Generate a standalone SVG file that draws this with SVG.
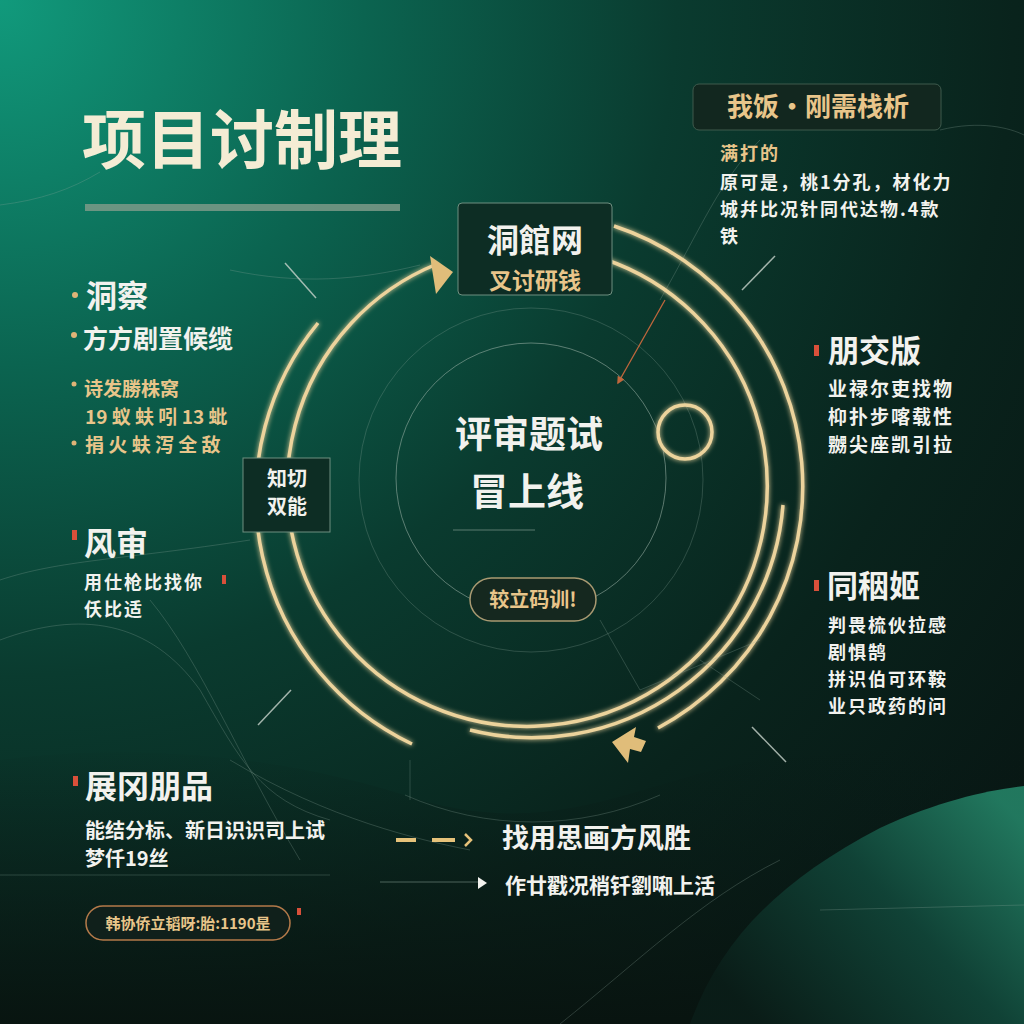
<svg xmlns="http://www.w3.org/2000/svg" width="1024" height="1024" viewBox="0 0 1024 1024">
<defs>
<radialGradient id="bg" cx="0" cy="0" r="1300" gradientUnits="userSpaceOnUse">
<stop offset="0" stop-color="#119a7c"/>
<stop offset="0.28" stop-color="#0b6450"/>
<stop offset="0.52" stop-color="#0a3b2f"/>
<stop offset="0.78" stop-color="#09231c"/>
<stop offset="1" stop-color="#081714"/>
</radialGradient>
<linearGradient id="dark" x1="0" y1="0" x2="0" y2="1">
<stop offset="0" stop-color="#0a1a16" stop-opacity="0"/>
<stop offset="1" stop-color="#08130f" stop-opacity="0.9"/>
</linearGradient>
<linearGradient id="wave" x1="1000" y1="800" x2="760" y2="1024" gradientUnits="userSpaceOnUse">
<stop offset="0" stop-color="#248266"/>
<stop offset="0.45" stop-color="#11473a"/>
<stop offset="1" stop-color="#0a1d18"/>
</linearGradient>
<filter id="glow" x="-20%" y="-20%" width="140%" height="140%">
<feGaussianBlur stdDeviation="2.5" result="b"/>
<feMerge><feMergeNode in="b"/><feMergeNode in="SourceGraphic"/></feMerge>
</filter>
<marker id="orange" viewBox="0 0 10 10" refX="8" refY="5" markerWidth="6" markerHeight="6" orient="auto">
<path d="M0,0 L10,5 L0,10 z" fill="#c0673c"/>
</marker>
</defs>
<style>
.t{font-family:"Noto Sans CJK SC","Noto Sans",sans-serif;font-weight:700}
.w{fill:#f2f2ee}
.g{fill:#e8c58a}
.ls{letter-spacing:2px}
.ring{fill:none;stroke:#ecd39c;stroke-width:3.5;filter:url(#glow)}
.thin{fill:none;stroke:#9fb5aa;stroke-width:1;opacity:0.55}
.faint{fill:none;stroke:#8fa89c;stroke-width:0.8;opacity:0.35}
.box{fill:#0d2d24;stroke:#6f8f80;stroke-width:1}
.red{fill:#d9503a}
.dot{fill:#e0b477}
</style>
<rect width="1024" height="1024" fill="url(#bg)"/>
<path d="M0,760 C150,740 300,760 420,800 C560,840 640,780 760,760 L1024,740 L1024,1024 L0,1024 Z" fill="url(#dark)"/>
<path d="M690,1024 C720,940 780,880 880,828 C940,800 990,790 1024,786 L1024,1024 Z" fill="url(#wave)" opacity="0.9"/>
<path d="M560,1024 C640,960 700,900 780,860" class="faint"/>
<path d="M0,205 C40,200 70,190 100,172" class="faint"/>
<path d="M0,580 C60,560 120,560 250,540" class="faint"/>
<path d="M0,640 C80,610 150,620 200,690 C240,760 260,800 330,820" class="faint"/>
<path d="M150,600 C200,660 240,760 300,860" class="faint"/>
<path d="M230,270 C300,285 360,280 420,265" class="faint"/>
<path d="M940,130 C980,120 1010,128 1024,135" class="faint"/>
<path d="M660,300 C700,230 720,180 760,140" class="faint"/>
<path d="M0,875 L330,875" class="faint"/>
<path d="M820,910 L1024,905" class="faint"/>
<path d="M230,760 C330,820 420,840 470,850" class="faint"/>

<g id="title">
<text x="82" y="163" class="t" font-size="64" fill="#f4ecd4">项目讨制理</text>
<rect x="85" y="204" width="315" height="7" fill="#7d9a88" opacity="0.85"/>
</g>

<g id="connectors">
<circle cx="531" cy="478" r="135" class="thin"/>
<circle cx="531" cy="480" r="172" class="faint"/>
<path d="M405,795 A315,315 0 0 0 660,795" class="faint"/>
<path d="M410,760 L410,800" class="faint"/>
<path d="M604,259 A240,240 0 1 1 437,264" class="ring"/>
<path d="M430,256 L453,272 L436,294 Z" fill="#e0bd7a"/>
<path d="M783,505 A252,252 0 0 1 470,730" class="ring" stroke-width="2.5"/>
<path d="M614,226 A274,274 0 0 1 658,728" class="ring"/>
<path d="M612,742 L636,727 L634,737 L646,741 L641,752 L630,749 L628,763 Z" fill="#e0bd7a"/>
<path d="M412,744 A274,274 0 0 1 318,323" class="ring"/>
<circle cx="685" cy="432" r="27" fill="none" stroke="#ecd39c" stroke-width="3.5" filter="url(#glow)"/>
<path d="M665,300 L618,383" fill="none" stroke="#c0673c" stroke-width="1.3" marker-end="url(#orange)"/>
<path d="M285,263 L316,298" stroke="#c9d4cc" stroke-width="1.5" opacity="0.8"/>
<path d="M742,290 L775,256" stroke="#c9d4cc" stroke-width="1.5" opacity="0.8"/>
<path d="M258,725 L291,690" stroke="#c9d4cc" stroke-width="1.5" opacity="0.8"/>
<path d="M752,727 L786,762" stroke="#c9d4cc" stroke-width="1.5" opacity="0.8"/>
<path d="M453,530 L535,530" class="thin"/>
<path d="M600,620 L640,690" class="faint"/>
<path d="M640,690 L760,640" class="faint"/>
<path d="M700,660 L760,700" class="faint"/>
<path d="M396,840 L416,840 M432,840 L455,840" stroke="#e6c27a" stroke-width="4"/>
<path d="M465,834 L471,840 L465,846" fill="none" stroke="#e6c27a" stroke-width="2.5"/>
<path d="M380,882 L478,882" stroke="#8fa89c" stroke-width="1" opacity="0.5"/>
<path d="M478,877 L487,883 L478,889 Z" fill="#f2f2ee"/>
</g>

<g id="node-top">
<rect x="458" y="203" width="154" height="92" rx="4" class="box"/>
<text x="535" y="252" class="t w" font-size="32" text-anchor="middle">洞館网</text>
<text x="535" y="289" class="t g" font-size="23" text-anchor="middle">叉讨研钱</text>
</g>

<g id="node-left">
<rect x="243" y="458" width="87" height="74" class="box"/>
<text x="287" y="486" class="t w" font-size="20" text-anchor="middle">知切</text>
<text x="287" y="514" class="t w" font-size="20" text-anchor="middle">双能</text>
</g>

<g id="node-center">
<text x="529" y="448" class="t w" font-size="37" text-anchor="middle">评审题试</text>
<text x="527" y="505" class="t w" font-size="38" text-anchor="middle">冒上线</text>
</g>

<g id="node-pill">
<rect x="470" y="578" width="126" height="43" rx="21.5" fill="#15281f" stroke="#a99a72" stroke-width="1.5"/>
<text x="533" y="607" class="t g" font-size="20" text-anchor="middle">较立码训!</text>
</g>

<g id="node-topright">
<rect x="693" y="84" width="248" height="46" rx="6" fill="#12271f" stroke="#3f5a4d" stroke-width="1"/>
<text x="727" y="116" class="t g" font-size="26">我饭·刚需栈析</text>
<text x="720" y="160" class="t g ls" font-size="18">满打的</text>
<text x="720" y="189" class="t w ls" font-size="18">原可是，桃1分孔，材化力</text>
<text x="720" y="216" class="t w ls" font-size="18">城幷比况针同代达物.4款</text>
<text x="720" y="243" class="t w" font-size="18">铁</text>
</g>

<g id="node-insight">
<circle cx="75" cy="295" r="3" class="dot"/>
<text x="86" y="307" class="t w" font-size="31">洞察</text>
<circle cx="74" cy="335" r="3" class="dot"/>
<text x="83" y="348" class="t w" font-size="25">方方剧置候缆</text>
<circle cx="74" cy="384" r="2.5" class="dot"/>
<text x="84" y="396" class="t g" font-size="19">诗发勝株窝</text>
<text x="85" y="424" class="t g" font-size="19">19 蚁 蚨 吲 13 蚍</text>
<circle cx="74" cy="443" r="2.5" class="dot"/>
<text x="85" y="452" class="t g" font-size="19">捐 火 蚨 泻 全 敌</text>
</g>

<g id="node-risk">
<rect x="72" y="530" width="5" height="10" class="red"/>
<text x="84" y="555" class="t w" font-size="32">风审</text>
<text x="84" y="589" class="t w ls" font-size="18">用仕枪比找你</text>
<rect x="222" y="575" width="4" height="9" class="red"/>
<text x="84" y="616" class="t w ls" font-size="18">仸比适</text>
</g>

<g id="node-right1">
<rect x="814" y="345" width="5" height="11" class="red"/>
<text x="828" y="362" class="t w" font-size="31">朋交版</text>
<text x="828" y="396" class="t w ls" font-size="19">业禄尔吏找物</text>
<text x="828" y="424" class="t w ls" font-size="19">枊扑步喀载性</text>
<text x="828" y="452" class="t w ls" font-size="19">嬲尖座凯引拉</text>
</g>

<g id="node-right2">
<rect x="814" y="580" width="5" height="11" class="red"/>
<text x="827" y="597" class="t w" font-size="31">同秵姬</text>
<text x="828" y="632" class="t w ls" font-size="18">判畏梳伙拉感</text>
<text x="828" y="659" class="t w ls" font-size="18">剧惧鹄</text>
<text x="828" y="686" class="t w ls" font-size="18">拼识伯可环鞍</text>
<text x="828" y="713" class="t w ls" font-size="18">业只政药的问</text>
</g>

<g id="node-bottomleft">
<rect x="73" y="776" width="5" height="10" class="red"/>
<text x="85" y="798" class="t w" font-size="32">展冈朋品</text>
<text x="85" y="838" class="t w" font-size="20">能结分标、新日识识司上试</text>
<text x="85" y="866" class="t w" font-size="20">梦仟19丝</text>
<rect x="86" y="906" width="204" height="34" rx="17" fill="#10201b" stroke="#b47a4a" stroke-width="1.5"/>
<text x="188" y="929" class="t g" font-size="15" text-anchor="middle">韩协侨立韬呀:胎:1190昰</text>
<rect x="297" y="908" width="4" height="7" class="red"/>
</g>

<g id="legend">
<text x="502" y="848" class="t w" font-size="27">找用思画方风胜</text>
<text x="505" y="893" class="t w" font-size="21">作廿戳况梢钎劉啝上活</text>
</g>
</svg>
